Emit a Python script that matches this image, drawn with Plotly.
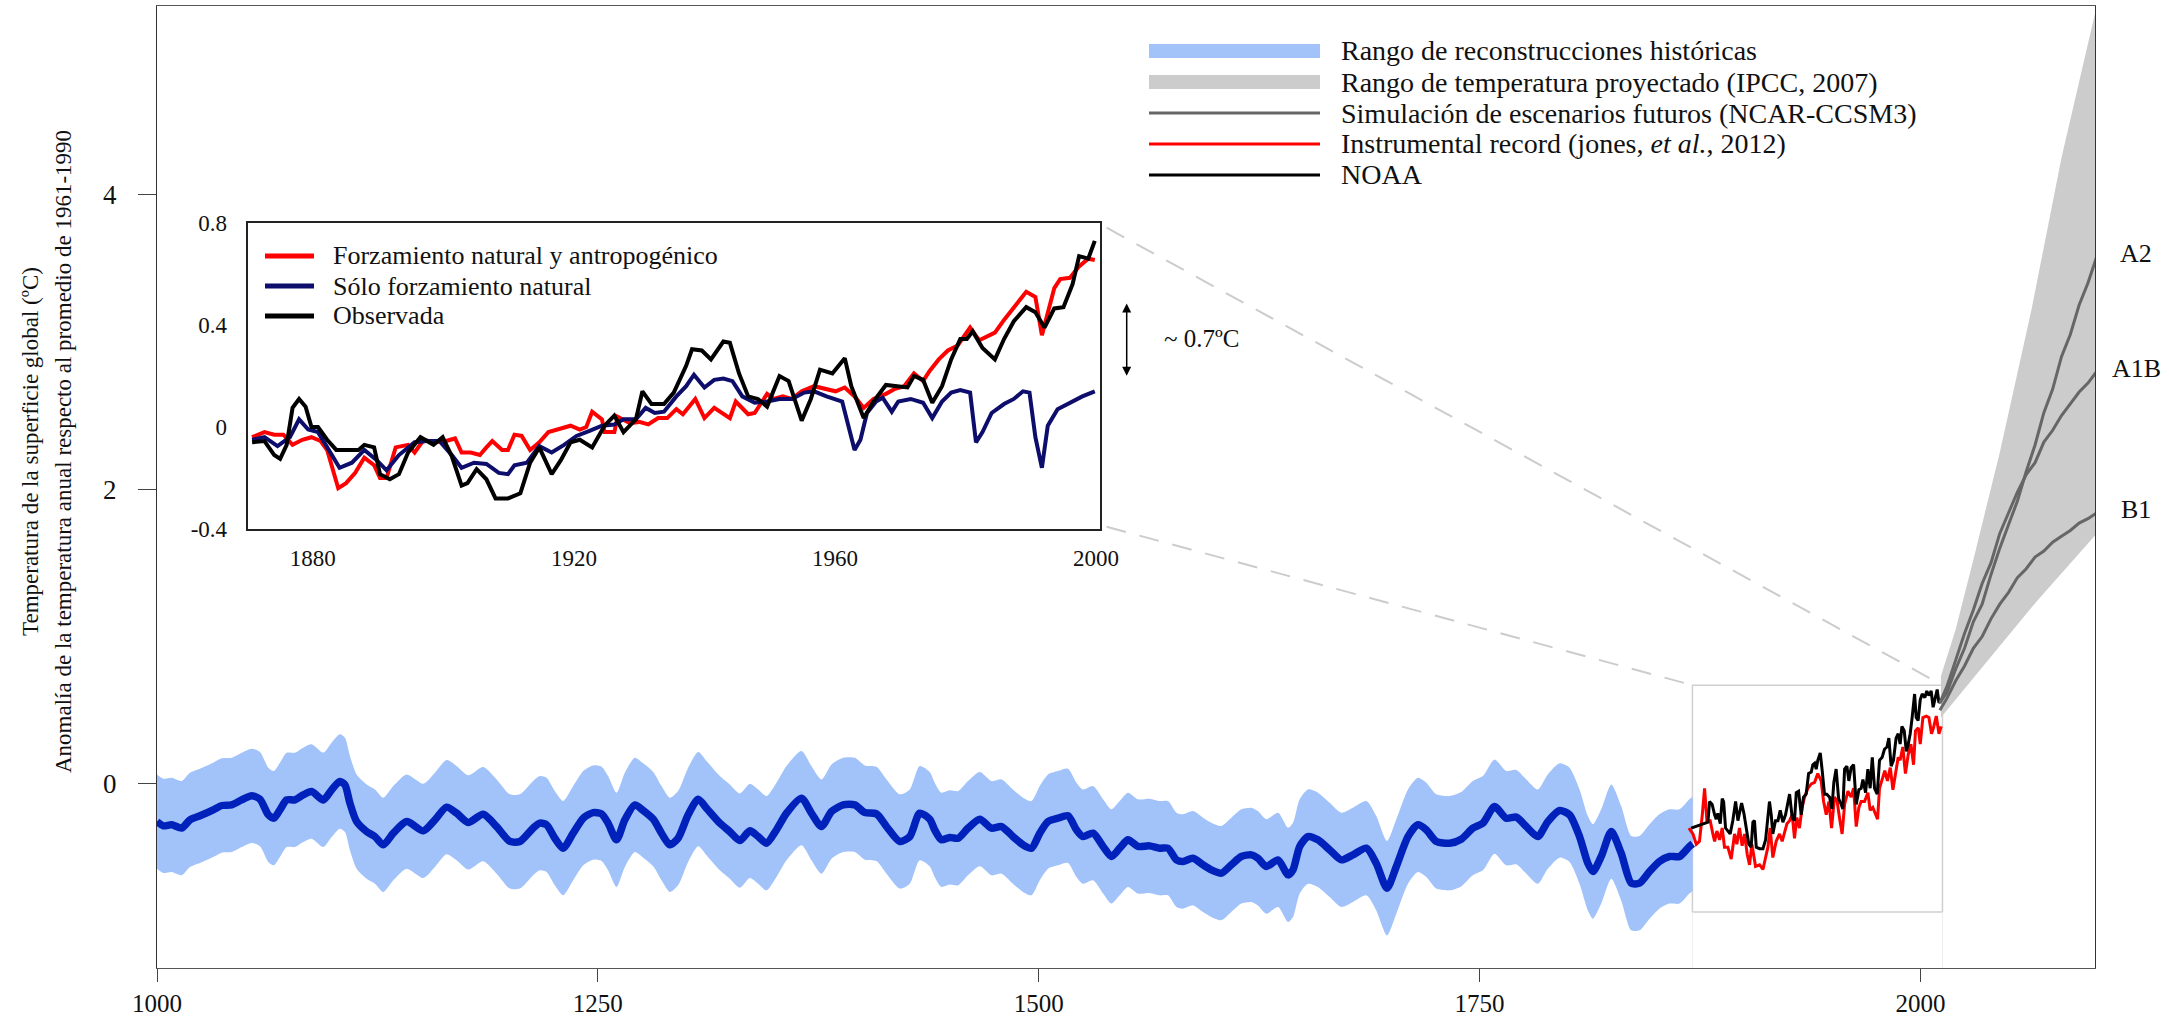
import plotly.graph_objects as go

FONT = "Liberation Serif, Times New Roman, serif"

# ---------------- DATA ----------------
# Reconstruction (mean of historical reconstructions), year -> anomaly (ºC)
RECON_MEAN = [
    (1000, -0.256), (1003.6, -0.285), (1008.3, -0.278), (1014.0, -0.300), (1018.7, -0.244),
    (1024.4, -0.217), (1031.9, -0.177), (1036.7, -0.147), (1042.3, -0.143), (1048.0, -0.109),
    (1053.7, -0.081), (1058.4, -0.104), (1063.1, -0.210), (1066.3, -0.233), (1069.7, -0.177),
    (1073.5, -0.109), (1078.2, -0.109), (1082.9, -0.075), (1087.7, -0.052), (1094.3, -0.109),
    (1099.0, -0.041), (1103.7, 0.016), (1106.6, -0.007), (1109.4, -0.131), (1113.2, -0.256),
    (1118.9, -0.324), (1123.6, -0.358), (1128.3, -0.414), (1134.0, -0.335), (1141.6, -0.256),
    (1151.0, -0.319), (1157.6, -0.244), (1164.2, -0.158), (1169.9, -0.199), (1176.5, -0.262),
    (1185.0, -0.206), (1192.6, -0.290), (1200.1, -0.391), (1205.8, -0.391), (1213.3, -0.300),
    (1217.1, -0.267), (1220.9, -0.278), (1225.6, -0.369), (1230.3, -0.437), (1236.0, -0.335),
    (1241.7, -0.233), (1247.3, -0.195), (1252.1, -0.204), (1255.8, -0.267), (1260.6, -0.380),
    (1265.3, -0.244), (1271.0, -0.143), (1275.7, -0.181), (1281.4, -0.240), (1286.1, -0.335),
    (1290.8, -0.414), (1295.5, -0.369), (1301.2, -0.210), (1306.9, -0.104), (1311.6, -0.165),
    (1319.2, -0.267), (1324.8, -0.324), (1330.5, -0.385), (1336.2, -0.319), (1340.9, -0.358),
    (1345.6, -0.403), (1351.3, -0.312), (1357.0, -0.199), (1365.5, -0.097), (1371.1, -0.199),
    (1376.8, -0.290), (1382.5, -0.188), (1389.1, -0.143), (1395.7, -0.143), (1401.4, -0.195),
    (1408.0, -0.204), (1413.7, -0.290), (1421.2, -0.391), (1426.9, -0.358), (1432.5, -0.199),
    (1438.2, -0.240), (1441.0, -0.312), (1444.8, -0.380), (1449.5, -0.364), (1454.3, -0.369),
    (1459.9, -0.301), (1466.6, -0.240), (1473.2, -0.301), (1478.9, -0.290), (1485.4, -0.358),
    (1491.1, -0.414), (1495.9, -0.437), (1500.6, -0.335), (1505.3, -0.256), (1510.9, -0.233),
    (1516.6, -0.217), (1521.4, -0.312), (1525.1, -0.358), (1530.8, -0.335), (1536.5, -0.425),
    (1541.2, -0.493), (1545.9, -0.437), (1550.6, -0.380), (1556.3, -0.425), (1562.9, -0.421),
    (1568.6, -0.437), (1573.3, -0.437), (1578.1, -0.516), (1581.8, -0.527), (1587.5, -0.505),
    (1593.2, -0.550), (1597.9, -0.584), (1603.6, -0.606), (1609.2, -0.550), (1614.9, -0.493),
    (1620.6, -0.482), (1624.3, -0.505), (1629.1, -0.561), (1635.7, -0.516), (1641.4, -0.618),
    (1644.2, -0.584), (1648.0, -0.425), (1652.7, -0.358), (1658.3, -0.380), (1665.0, -0.448),
    (1671.6, -0.516), (1678.2, -0.482), (1685.8, -0.437), (1691.4, -0.539), (1697.5, -0.708),
    (1702.8, -0.561), (1709.4, -0.358), (1715.0, -0.278), (1719.8, -0.312), (1725.5, -0.391),
    (1733.0, -0.403), (1739.6, -0.376), (1746.2, -0.301), (1751.9, -0.267), (1758.5, -0.154),
    (1765.1, -0.233), (1770.8, -0.226), (1776.5, -0.290), (1783.0, -0.358), (1788.7, -0.256),
    (1795.4, -0.181), (1801.0, -0.210), (1806.7, -0.358), (1811.4, -0.539), (1814.3, -0.595),
    (1819.0, -0.493), (1824.7, -0.324), (1830.3, -0.471), (1836.0, -0.674), (1840.7, -0.674),
    (1846.4, -0.595), (1852.0, -0.527), (1857.7, -0.493), (1863.4, -0.493), (1869.0, -0.425),
    (1870.9, -0.407),
]
RECON_HALF_WIDTH = 0.32  # half width of the reconstruction range (ºC)

# Instrumental record (Jones et al., 2012), main panel
INSTR_RECORD = [
    (1868.7, -0.30), (1871.0, -0.34), (1872.9, -0.41), (1874.7, -0.39), (1876.3, -0.21),
    (1877.6, -0.03), (1878.9, -0.25), (1880.8, -0.25), (1882.3, -0.34), (1883.3, -0.39),
    (1884.6, -0.32), (1886.1, -0.38), (1887.6, -0.30), (1888.9, -0.43), (1890.8, -0.43),
    (1892.7, -0.51), (1894.6, -0.34), (1895.9, -0.41), (1897.4, -0.30), (1898.9, -0.42),
    (1900.3, -0.34), (1901.8, -0.48), (1903.1, -0.55), (1904.4, -0.41), (1905.4, -0.48),
    (1906.5, -0.56), (1908.8, -0.55), (1910.7, -0.58), (1912.2, -0.50), (1913.5, -0.43),
    (1914.8, -0.30), (1916.3, -0.50), (1918.2, -0.39), (1920.1, -0.34), (1921.6, -0.39),
    (1922.9, -0.34), (1924.3, -0.27), (1925.8, -0.25), (1927.3, -0.21), (1928.6, -0.37),
    (1929.9, -0.23), (1931.4, -0.30), (1932.9, -0.16), (1934.3, -0.09), (1936.2, -0.03),
    (1938.1, 0.00), (1940.0, 0.01), (1941.8, 0.07), (1943.7, 0.02), (1945.1, -0.12),
    (1946.6, -0.21), (1948.1, -0.12), (1949.6, -0.30), (1951.3, -0.09), (1952.8, -0.12),
    (1954.1, -0.23), (1955.6, -0.34), (1957.0, -0.14), (1958.9, -0.05), (1960.7, -0.09),
    (1962.1, -0.03), (1963.6, -0.29), (1965.1, -0.16), (1966.4, -0.12), (1968.3, -0.12),
    (1970.2, -0.06), (1971.5, -0.18), (1973.0, -0.16), (1974.5, -0.21), (1975.7, -0.24),
    (1976.8, -0.03), (1978.3, 0.04), (1979.8, 0.09), (1981.3, 0.02), (1982.9, 0.11),
    (1984.4, -0.04), (1985.9, 0.07), (1987.4, 0.18), (1988.5, 0.16), (1990.0, 0.25),
    (1991.5, 0.07), (1993.1, 0.20), (1994.6, 0.27), (1996.1, 0.13), (1997.2, 0.36),
    (1998.8, 0.38), (1999.9, 0.27), (2001.4, 0.45), (2003.3, 0.46), (2004.8, 0.45),
    (2006.3, 0.34), (2007.4, 0.38), (2009.0, 0.46), (2010.5, 0.34), (2011.8, 0.39),
]

# NOAA record, main panel
NOAA_RECORD = [
    (1870.0, -0.30), (1879.5, -0.26), (1880.4, -0.12), (1881.9, -0.14), (1883.3, -0.21),
    (1884.2, -0.24), (1885.1, -0.20), (1886.5, -0.27), (1887.6, -0.10), (1888.4, -0.12),
    (1889.5, -0.30), (1890.8, -0.32), (1892.1, -0.34), (1893.6, -0.25), (1895.2, -0.12),
    (1896.5, -0.25), (1897.4, -0.20), (1898.6, -0.13), (1899.9, -0.20), (1901.2, -0.30),
    (1902.7, -0.41), (1904.0, -0.43), (1905.0, -0.26), (1905.9, -0.25), (1906.9, -0.43),
    (1908.8, -0.44), (1910.7, -0.44), (1912.2, -0.38), (1913.5, -0.25), (1914.4, -0.12),
    (1915.4, -0.21), (1916.3, -0.34), (1917.8, -0.25), (1919.2, -0.25), (1920.5, -0.18),
    (1922.0, -0.26), (1923.5, -0.21), (1924.8, -0.12), (1925.8, -0.07), (1927.3, -0.23),
    (1928.6, -0.25), (1929.6, -0.06), (1930.9, -0.05), (1932.4, -0.21), (1933.7, -0.09),
    (1935.2, -0.07), (1936.6, 0.07), (1938.1, 0.08), (1939.0, 0.13), (1940.0, 0.14),
    (1940.9, 0.10), (1941.8, 0.16), (1943.2, 0.21), (1944.3, 0.09), (1945.6, -0.07),
    (1946.9, -0.07), (1948.5, -0.09), (1949.8, -0.17), (1950.9, 0.01), (1952.2, 0.10),
    (1953.6, -0.10), (1955.1, -0.14), (1956.0, -0.17), (1957.0, 0.10), (1958.3, 0.12),
    (1959.4, 0.02), (1960.7, 0.11), (1962.1, 0.13), (1963.6, -0.14), (1965.1, -0.04),
    (1966.4, -0.03), (1967.4, 0.03), (1968.9, -0.06), (1970.2, 0.10), (1971.5, -0.03),
    (1972.7, 0.18), (1974.0, -0.03), (1975.5, -0.07), (1976.8, 0.16), (1978.3, 0.18),
    (1979.6, 0.235), (1981.0, 0.25), (1982.1, 0.31), (1983.4, 0.12), (1984.7, 0.16),
    (1986.2, 0.31), (1987.4, 0.34), (1988.5, 0.27), (1989.5, 0.39), (1990.8, 0.36),
    (1992.0, 0.22), (1993.1, 0.27), (1994.2, 0.34), (1995.3, 0.45), (1996.7, 0.61),
    (1997.6, 0.45), (1998.7, 0.43), (1999.9, 0.57), (2001.0, 0.61), (2002.5, 0.585),
    (2003.6, 0.63), (2004.8, 0.60), (2006.1, 0.63), (2007.2, 0.52), (2008.4, 0.585),
    (2009.5, 0.64), (2010.5, 0.55), (2011.8, 0.57),
]

# IPCC 2007 projected range (upper / lower edges)
PROJ_UPPER = [(2011.6, 0.73), (2020, 1.05), (2030, 1.52), (2045, 2.25), (2063, 3.22), (2080, 4.25), (2100, 5.28)]
PROJ_LOWER = [(2011.6, 0.45), (2066, 1.24), (2100, 1.70)]

# NCAR-CCSM3 scenario simulations
SCEN_YEARS = [2011, 2015, 2020, 2025, 2030, 2035, 2040, 2045, 2050, 2055, 2060,
              2065, 2070, 2075, 2080, 2085, 2090, 2095, 2100]
SCEN_A2 = [0.55, 0.62, 0.78, 0.92, 1.10, 1.22, 1.42, 1.60, 1.76, 1.92, 2.12,
           2.30, 2.52, 2.68, 2.90, 3.05, 3.25, 3.40, 3.58]
SCEN_A1B = [0.55, 0.66, 0.84, 1.02, 1.18, 1.36, 1.50, 1.70, 1.84, 1.98, 2.10,
            2.18, 2.32, 2.40, 2.50, 2.58, 2.66, 2.72, 2.80]
SCEN_B1 = [0.50, 0.58, 0.70, 0.80, 0.92, 1.00, 1.12, 1.22, 1.30, 1.40, 1.46,
           1.54, 1.58, 1.64, 1.68, 1.72, 1.77, 1.80, 1.84]
SCEN_NAMES = ["A2", "A1B", "B1"]

# Inset: natural + anthropogenic forcing
INSET_NAT_ANTH = [
    (1870.7, -0.04), (1872.6, -0.02), (1874.1, -0.03), (1875.5, -0.03), (1876.9, -0.07),
    (1878.4, -0.05), (1879.8, -0.04), (1881.2, -0.055), (1882.2, -0.09), (1883.9, -0.24),
    (1885.1, -0.22), (1886.5, -0.18), (1887.9, -0.12), (1889.4, -0.15), (1890.3, -0.20),
    (1891.3, -0.20), (1892.7, -0.08), (1894.6, -0.07), (1895.6, -0.10), (1897.0, -0.05),
    (1898.5, -0.06), (1900.4, -0.055), (1901.8, -0.045), (1902.8, -0.10), (1904.2, -0.10),
    (1905.6, -0.11), (1906.6, -0.08), (1907.5, -0.055), (1909.0, -0.09), (1909.9, -0.09),
    (1910.9, -0.03), (1912.0, -0.035), (1913.3, -0.09), (1914.7, -0.06), (1916.1, -0.02),
    (1917.6, -0.01), (1919.5, 0.005), (1920.9, -0.01), (1921.9, 0.0), (1922.8, 0.06),
    (1924.3, 0.03), (1924.7, -0.02), (1926.2, -0.02), (1926.7, 0.04), (1928.6, 0.015),
    (1930.0, 0.02), (1931.4, 0.01), (1932.9, 0.035), (1934.3, 0.035), (1935.7, 0.07),
    (1936.7, 0.05), (1938.6, 0.11), (1940.0, 0.035), (1941.5, 0.075), (1943.9, 0.035),
    (1944.8, 0.10), (1946.7, 0.05), (1947.7, 0.055), (1949.6, 0.13), (1950.6, 0.11),
    (1952.0, 0.12), (1953.4, 0.11), (1954.9, 0.14), (1956.8, 0.16), (1958.7, 0.15),
    (1960.1, 0.14), (1961.5, 0.155), (1963.0, 0.12), (1964.4, 0.075), (1965.9, 0.11),
    (1967.8, 0.13), (1969.2, 0.15), (1970.6, 0.16), (1972.1, 0.21), (1973.5, 0.18),
    (1974.5, 0.22), (1975.9, 0.265), (1977.3, 0.30), (1978.8, 0.32), (1980.7, 0.39),
    (1982.1, 0.34), (1983.5, 0.36), (1984.5, 0.37), (1985.9, 0.42), (1987.4, 0.47),
    (1989.3, 0.53), (1990.7, 0.51), (1991.7, 0.36), (1993.6, 0.545), (1994.5, 0.58),
    (1996.0, 0.585), (1997.4, 0.63), (1998.8, 0.66), (1999.8, 0.655),
]

# Inset: natural forcing only
INSET_NATURAL = [
    (1870.7, -0.05), (1872.6, -0.04), (1874.6, -0.075), (1876.5, -0.04), (1877.9, 0.03),
    (1879.3, -0.01), (1880.8, -0.02), (1882.2, -0.08), (1884.1, -0.16), (1886.0, -0.14),
    (1887.9, -0.09), (1889.8, -0.13), (1891.3, -0.17), (1893.2, -0.11), (1895.6, -0.06),
    (1897.5, -0.055), (1899.4, -0.055), (1901.3, -0.11), (1902.8, -0.16), (1904.7, -0.14),
    (1906.6, -0.145), (1908.5, -0.18), (1909.9, -0.185), (1910.9, -0.15), (1912.8, -0.14),
    (1914.7, -0.075), (1916.6, -0.10), (1918.5, -0.07), (1920.4, -0.035), (1922.4, -0.015),
    (1924.3, 0.005), (1926.2, 0.01), (1927.6, 0.03), (1929.5, 0.03), (1931.0, 0.075),
    (1932.4, 0.055), (1933.8, 0.06), (1935.7, 0.12), (1937.2, 0.16), (1938.4, 0.205),
    (1940.0, 0.155), (1941.5, 0.185), (1942.9, 0.19), (1944.3, 0.18), (1945.8, 0.12),
    (1947.7, 0.095), (1949.6, 0.10), (1951.5, 0.11), (1953.4, 0.11), (1955.3, 0.135),
    (1956.8, 0.14), (1958.7, 0.12), (1961.1, 0.10), (1963.0, -0.09), (1963.9, -0.05),
    (1964.9, 0.055), (1966.3, 0.10), (1967.3, 0.115), (1968.7, 0.06), (1969.7, 0.10),
    (1971.6, 0.11), (1973.5, 0.095), (1974.9, 0.035), (1976.4, 0.10), (1977.8, 0.135),
    (1979.2, 0.145), (1980.7, 0.135), (1981.6, -0.06), (1982.6, -0.02), (1984.0, 0.055),
    (1985.9, 0.09), (1987.4, 0.11), (1988.8, 0.14), (1989.8, 0.135), (1990.7, -0.04),
    (1991.7, -0.16), (1992.6, 0.005), (1994.1, 0.07), (1996.0, 0.095), (1997.9, 0.12),
    (1999.8, 0.14),
]

# Inset: observed
INSET_OBSERVED = [
    (1870.7, -0.06), (1872.6, -0.055), (1874.1, -0.11), (1875.0, -0.125), (1876.0, -0.07),
    (1876.9, 0.075), (1877.9, 0.11), (1878.9, 0.08), (1879.8, 0.0), (1880.8, 0.0),
    (1882.2, -0.05), (1883.6, -0.09), (1885.5, -0.09), (1887.0, -0.09), (1887.9, -0.07),
    (1889.4, -0.08), (1890.3, -0.185), (1891.8, -0.205), (1893.2, -0.185), (1894.6, -0.10),
    (1896.5, -0.04), (1898.5, -0.07), (1899.9, -0.04), (1901.3, -0.115), (1902.8, -0.23),
    (1903.7, -0.22), (1905.1, -0.165), (1906.6, -0.205), (1908.0, -0.28), (1909.9, -0.28),
    (1911.8, -0.26), (1913.3, -0.14), (1914.7, -0.08), (1916.6, -0.185), (1918.0, -0.13),
    (1919.5, -0.06), (1920.9, -0.05), (1922.8, -0.08), (1924.7, 0.005), (1926.2, 0.045),
    (1927.6, -0.02), (1929.5, 0.03), (1930.5, 0.14), (1931.9, 0.09), (1933.8, 0.09),
    (1935.3, 0.135), (1937.2, 0.24), (1938.1, 0.305), (1939.6, 0.30), (1941.0, 0.265),
    (1942.9, 0.335), (1943.9, 0.33), (1945.3, 0.21), (1946.7, 0.12), (1948.2, 0.11),
    (1949.6, 0.08), (1951.5, 0.20), (1952.9, 0.18), (1954.9, 0.025), (1956.3, 0.11),
    (1957.7, 0.225), (1959.6, 0.21), (1961.5, 0.27), (1962.5, 0.16), (1964.4, 0.035),
    (1965.9, 0.10), (1967.8, 0.165), (1969.7, 0.16), (1971.1, 0.155), (1972.1, 0.20),
    (1973.5, 0.185), (1974.9, 0.095), (1976.4, 0.16), (1977.8, 0.265), (1979.2, 0.345),
    (1980.2, 0.345), (1981.1, 0.375), (1982.6, 0.31), (1984.5, 0.265), (1985.9, 0.345),
    (1987.4, 0.415), (1989.3, 0.47), (1990.7, 0.45), (1992.1, 0.39), (1993.6, 0.465),
    (1995.0, 0.47), (1996.4, 0.56), (1997.4, 0.67), (1998.8, 0.66), (1999.8, 0.73),
]

MAIN_XTICKS = [1000, 1250, 1500, 1750, 2000]
MAIN_YTICKS = [0, 2, 4]
INSET_XTICKS = [1880, 1920, 1960, 2000]
INSET_YTICKS = [-0.4, 0, 0.4, 0.8]
INSET_YTICKTEXT = ["-0.4", "0", "0.4", "0.8"]

LEGEND_MAIN = [
    ("band", "#a2c2fa", "Rango de reconstrucciones históricas"),
    ("band", "#cccccc", "Rango de temperatura proyectado (IPCC, 2007)"),
    ("line", "#666666", "Simulación de escenarios futuros (NCAR-CCSM3)"),
    ("line", "#ff0000", "Instrumental record (jones, <i>et al.</i>, 2012)"),
    ("line", "#000000", "NOAA"),
]
LEGEND_INSET = [
    ("#ff0000", "Forzamiento natural y antropogénico"),
    ("#0d0d6b", "Sólo forzamiento natural"),
    ("#000000", "Observada"),
]

# Zoom box (region enlarged by the inset), in main-axis units
ZOOM_BOX = dict(x0=1870.7, x1=2012.5, y0=-0.87, y1=0.67)
INSET_CORNERS = dict(x=1538.5, y_top=3.775, y_bottom=1.745)


def xs(pairs):
    return [p[0] for p in pairs]


def ys(pairs):
    return [p[1] for p in pairs]


fig = go.Figure()

# --- reconstruction band ---
rx, rv = xs(RECON_MEAN), ys(RECON_MEAN)
fig.add_trace(go.Scatter(x=rx, y=[v - RECON_HALF_WIDTH for v in rv], mode="lines",
                         line=dict(width=0, shape="spline", smoothing=0.7),
                         hoverinfo="skip", showlegend=False))
fig.add_trace(go.Scatter(x=rx, y=[v + RECON_HALF_WIDTH for v in rv], mode="lines",
                         line=dict(width=0, shape="spline", smoothing=0.7),
                         fill="tonexty", fillcolor="#a2c2fa",
                         hoverinfo="skip", showlegend=False))
fig.add_trace(go.Scatter(x=rx, y=rv, mode="lines",
                         line=dict(color="#0022bb", width=7.5, shape="spline", smoothing=0.7),
                         showlegend=False))

# --- instrumental + NOAA ---
fig.add_trace(go.Scatter(x=xs(INSTR_RECORD), y=ys(INSTR_RECORD), mode="lines",
                         line=dict(color="#ff0000", width=3), showlegend=False))
fig.add_trace(go.Scatter(x=xs(NOAA_RECORD), y=ys(NOAA_RECORD), mode="lines",
                         line=dict(color="#000000", width=3), showlegend=False))

# --- projected range ---
px = xs(PROJ_UPPER) + xs(PROJ_LOWER)[::-1]
py = ys(PROJ_UPPER) + ys(PROJ_LOWER)[::-1]
fig.add_trace(go.Scatter(x=px, y=py, mode="lines", fill="toself", fillcolor="#cccccc",
                         line=dict(width=0), hoverinfo="skip", showlegend=False))

for vals in (SCEN_A2, SCEN_A1B, SCEN_B1):
    fig.add_trace(go.Scatter(x=SCEN_YEARS, y=vals, mode="lines",
                             line=dict(color="#666666", width=3), showlegend=False))

# --- inset traces ---
for pairs, col in ((INSET_NAT_ANTH, "#ff0000"), (INSET_NATURAL, "#0d0d6b"), (INSET_OBSERVED, "#000000")):
    fig.add_trace(go.Scatter(x=xs(pairs), y=ys(pairs), mode="lines", xaxis="x2", yaxis="y2",
                             line=dict(color=col, width=4), showlegend=False))

# ---------------- LAYOUT ----------------
W, H = 2169, 1017
ML, MR, MT, MB = 157, 74, 6, 49
PW, PH = W - ML - MR, H - MT - MB


def px_to_paper_x(p):
    return (p - ML) / PW


def px_to_paper_y(p):
    return (H - MB - p) / PH


shapes = []
annotations = []

# zoom box & connectors
shapes.append(dict(type="rect", xref="x", yref="y", layer="below", **ZOOM_BOX,
                   line=dict(color="#d0d0d0", width=1.5)))
for xv in (ZOOM_BOX["x0"], ZOOM_BOX["x1"]):
    shapes.append(dict(type="line", xref="x", yref="y", layer="below", x0=xv, x1=xv,
                       y0=-1.25, y1=ZOOM_BOX["y0"], line=dict(color="#eeeeee", width=1)))
shapes.append(dict(type="line", xref="x", yref="y", layer="below",
                   x0=INSET_CORNERS["x"], y0=INSET_CORNERS["y_top"],
                   x1=ZOOM_BOX["x1"], y1=ZOOM_BOX["y1"],
                   line=dict(color="#cccccc", width=2, dash="20px,14px")))
shapes.append(dict(type="line", xref="x", yref="y", layer="below",
                   x0=INSET_CORNERS["x"], y0=INSET_CORNERS["y_bottom"],
                   x1=ZOOM_BOX["x0"], y1=ZOOM_BOX["y1"],
                   line=dict(color="#cccccc", width=2, dash="20px,14px")))

# main legend
leg_rows = [51, 82, 113, 144, 175]
lx0, lx1, ltx = px_to_paper_x(1149), px_to_paper_x(1320), px_to_paper_x(1339)
for (kind, col, label), row in zip(LEGEND_MAIN, leg_rows):
    yc = px_to_paper_y(row)
    if kind == "band":
        shapes.append(dict(type="rect", xref="paper", yref="paper", x0=lx0, x1=lx1,
                           y0=yc - 7 / PH, y1=yc + 7 / PH, fillcolor=col, line=dict(width=0)))
    else:
        shapes.append(dict(type="line", xref="paper", yref="paper", x0=lx0, x1=lx1,
                           y0=yc, y1=yc, line=dict(color=col, width=3)))
    annotations.append(dict(xref="paper", yref="paper", x=ltx, y=yc, text=label,
                            showarrow=False, xanchor="left", yanchor="middle",
                            font=dict(family=FONT, size=28, color="#111111")))

# inset legend
ins_rows = [256, 286, 316]
ix0, ix1, itx = px_to_paper_x(265), px_to_paper_x(314), px_to_paper_x(331)
for (col, label), row in zip(LEGEND_INSET, ins_rows):
    yc = px_to_paper_y(row)
    shapes.append(dict(type="line", xref="paper", yref="paper", x0=ix0, x1=ix1,
                       y0=yc, y1=yc, line=dict(color=col, width=5)))
    annotations.append(dict(xref="paper", yref="paper", x=itx, y=yc, text=label,
                            showarrow=False, xanchor="left", yanchor="middle",
                            font=dict(family=FONT, size=26, color="#111111")))

# ~0.7ºC arrow
annotations.append(dict(xref="x", yref="y", axref="x", ayref="y",
                        x=1549.9, y=2.77, ax=1549.9, ay=3.27, text="",
                        showarrow=True, arrowhead=2, arrowside="end+start",
                        arrowsize=1.2, arrowwidth=1.5, arrowcolor="#000000"))
annotations.append(dict(xref="x", yref="y", x=1569.7, y=3.02, text="~ 0.7ºC",
                        showarrow=False, xanchor="left", yanchor="middle",
                        font=dict(family=FONT, size=25, color="#111111")))

# scenario labels
for name, vals in zip(SCEN_NAMES, (SCEN_A2, SCEN_A1B, SCEN_B1)):
    annotations.append(dict(xref="paper", yref="y", x=px_to_paper_x(2136), y=vals[-1] + 0.02,
                            text=name, showarrow=False, xanchor="center", yanchor="middle",
                            font=dict(family=FONT, size=26, color="#111111")))

# y-axis titles
annotations.append(dict(xref="paper", yref="paper", x=px_to_paper_x(31), y=px_to_paper_y(452),
                        text="Temperatura de la superficie global (ºC)", textangle=-90,
                        showarrow=False, xanchor="center", yanchor="middle",
                        font=dict(family=FONT, size=23, color="#111111")))
annotations.append(dict(xref="paper", yref="paper", x=px_to_paper_x(64), y=px_to_paper_y(452),
                        text="Anomalía de la temperatura anual respecto al promedio de 1961-1990",
                        textangle=-90, showarrow=False, xanchor="center", yanchor="middle",
                        font=dict(family=FONT, size=23, color="#111111")))

axis_common = dict(showgrid=False, zeroline=False, showline=True, mirror=True, automargin=False)

fig.update_layout(
    width=W, height=H,
    margin=dict(l=ML, r=MR, t=MT, b=MB, pad=0, autoexpand=False),
    paper_bgcolor="white", plot_bgcolor="white",
    showlegend=False,
    font=dict(family=FONT, color="#111111"),
    xaxis=dict(range=[1000, 2099], tickvals=MAIN_XTICKS, ticks="outside", ticklen=13,
               tickwidth=1.3, tickcolor="#444444", linecolor="#555555", linewidth=1.3,
               tickfont=dict(family=FONT, size=25, color="#111111"), ticklabelstandoff=0,
               **axis_common),
    yaxis=dict(range=[-1.25, 5.28], tickvals=MAIN_YTICKS, ticks="outside", ticklen=18,
               tickwidth=1.3, tickcolor="#444444", linecolor="#333333", linewidth=1.3,
               tickfont=dict(family=FONT, size=27, color="#111111"), ticklabelstandoff=16,
               **axis_common),
    xaxis2=dict(domain=[px_to_paper_x(247.5), px_to_paper_x(1100)], anchor="y2",
                range=[1870, 2000.6], tickvals=INSET_XTICKS, ticks="",
                linecolor="#222222", linewidth=1.6,
                tickfont=dict(family=FONT, size=23, color="#111111"), ticklabelstandoff=8,
                **axis_common),
    yaxis2=dict(domain=[px_to_paper_y(529), px_to_paper_y(223)], anchor="x2",
                range=[-0.4, 0.8], tickvals=INSET_YTICKS, ticktext=INSET_YTICKTEXT, ticks="",
                linecolor="#222222", linewidth=1.6,
                tickfont=dict(family=FONT, size=23, color="#111111"), ticklabelstandoff=14,
                **axis_common),
    shapes=shapes,
    annotations=annotations,
)

fig.write_html("out.html", config={"displayModeBar": False},
               post_script="document.body.style.margin='0';document.body.style.overflow='hidden';")
